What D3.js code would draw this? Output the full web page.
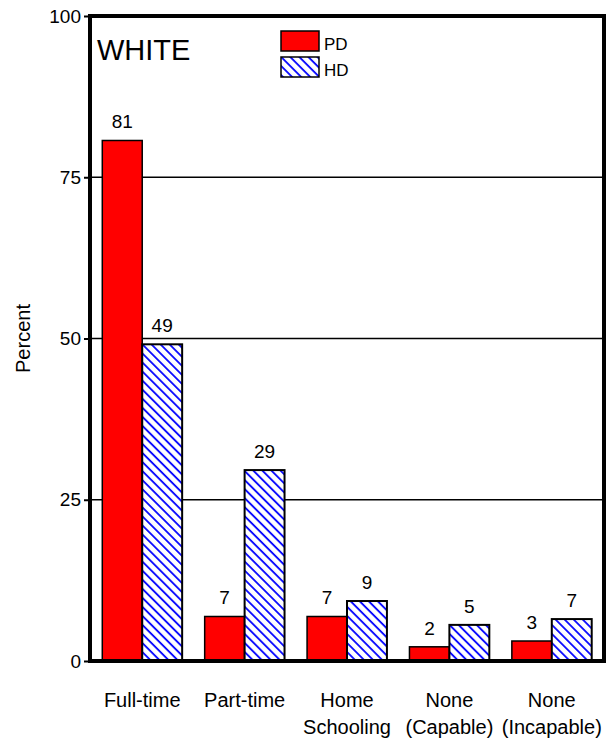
<!DOCTYPE html>
<html>
<head>
<meta charset="utf-8">
<script src="https://cdn.jsdelivr.net/npm/d3@7"></script>
<style>
  body { margin: 0; background: #fff; }
  text { font-family: Arial, "Liberation Sans", sans-serif; fill: #000; }
</style>
</head>
<body>
<svg id="chart"></svg>
<script>
// Data
const categories = [["Full-time"], ["Part-time"], ["Home", "Schooling"], ["None", "(Capable)"], ["None", "(Incapable)"]];
const seriesNames = ["PD", "HD"];
const pdValues = [80.7, 6.9, 6.9, 2.2, 3.1];
const hdValues = [49.1, 29.6, 9.3, 5.6, 6.5];
const pdLabels = ["81", "7", "7", "2", "3"];
const hdLabels = ["49", "29", "9", "5", "7"];
const yTicks = [0, 25, 50, 75, 100];

const width = 607, height = 743;
const margin = { top: 16, right: 3, bottom: 82, left: 90 };
const innerW = width - margin.left - margin.right;
const innerH = height - margin.top - margin.bottom;

const svg = d3.select('#chart').attr('width', width).attr('height', height);

// Hatch pattern for HD (lines going down to the right)
const defs = svg.append('defs');
const pat = defs.append('pattern')
  .attr('id', 'hatch')
  .attr('patternUnits', 'userSpaceOnUse')
  .attr('width', 6.4).attr('height', 6.4)
  .attr('patternTransform', 'rotate(-45)');
pat.append('rect').attr('width', 6.4).attr('height', 6.4).attr('fill', '#fff');
pat.append('line')
  .attr('x1', 1).attr('y1', 0).attr('x2', 1).attr('y2', 6.4)
  .attr('stroke', '#0000ff').attr('stroke-width', 1.8);

const g = svg.append('g').attr('transform', `translate(${margin.left},${margin.top})`);

const x0 = d3.scaleBand().domain(d3.range(categories.length)).range([0, innerW]).paddingInner(0.22).paddingOuter(0.12);
const x1 = d3.scaleBand().domain(seriesNames).range([0, x0.bandwidth()]);
const y = d3.scaleLinear().domain([0, 100]).range([innerH, 0]);

// Gridlines
g.selectAll('.grid').data(yTicks.filter(d => d > 0 && d < 100)).join('line')
  .attr('x1', 0).attr('x2', innerW)
  .attr('y1', d => y(d)).attr('y2', d => y(d))
  .attr('stroke', '#000').attr('stroke-width', 1.5);

// Y axis
const yAxis = d3.axisLeft(y).tickValues(yTicks).tickSize(6).tickPadding(3);
const yAxisG = g.append('g').call(yAxis);
yAxisG.select('.domain').remove();
yAxisG.selectAll('line').attr('stroke-width', 2);
yAxisG.selectAll('text').attr('font-size', 19).attr('font-family', 'Arial, "Liberation Sans", sans-serif');

// Bars
const rows = categories.map((c, i) => ({ i, PD: pdValues[i], HD: hdValues[i] }));
const grp = g.selectAll('.grp').data(rows).join('g')
  .attr('transform', d => `translate(${x0(d.i)},0)`);

grp.append('rect')
  .attr('x', x1('PD')).attr('width', x1.bandwidth())
  .attr('y', d => y(d.PD)).attr('height', d => y(0) - y(d.PD))
  .attr('fill', '#ff0000').attr('stroke', '#000').attr('stroke-width', 1.5);

grp.append('rect')
  .attr('x', x1('HD')).attr('width', x1.bandwidth())
  .attr('y', d => y(d.HD)).attr('height', d => y(0) - y(d.HD))
  .attr('fill', 'url(#hatch)').attr('stroke', '#000').attr('stroke-width', 2);

// Value labels
grp.append('text')
  .attr('x', x1('PD') + x1.bandwidth() / 2)
  .attr('y', d => y(d.PD) - 12)
  .attr('text-anchor', 'middle').attr('font-size', 19)
  .text(d => pdLabels[d.i]);
grp.append('text')
  .attr('x', x1('HD') + x1.bandwidth() / 2)
  .attr('y', d => y(d.HD) - 12)
  .attr('text-anchor', 'middle').attr('font-size', 19)
  .text(d => hdLabels[d.i]);

// Category labels
grp.append('text')
  .attr('text-anchor', 'middle').attr('font-size', 20)
  .attr('transform', `translate(${x0.bandwidth() / 2},${innerH + 46})`)
  .selectAll('tspan').data(d => categories[d.i]).join('tspan')
  .attr('x', 0).attr('dy', (d, k) => k === 0 ? 0 : 27)
  .text(d => d);

// Frame
g.append('rect')
  .attr('x', 0).attr('y', 0).attr('width', innerW).attr('height', innerH)
  .attr('fill', 'none').attr('stroke', '#000').attr('stroke-width', 4);

// Title
g.append('text').attr('x', 7).attr('y', 44).attr('font-size', 29).text('WHITE');

// Legend
const legend = g.append('g').attr('transform', 'translate(191,15)');
seriesNames.forEach((s, k) => {
  legend.append('rect')
    .attr('x', 0).attr('y', k * 26).attr('width', 38).attr('height', 20)
    .attr('fill', s === 'PD' ? '#ff0000' : 'url(#hatch)')
    .attr('stroke', '#000').attr('stroke-width', 1.5);
  legend.append('text')
    .attr('x', 43).attr('y', k * 26 + 19).attr('font-size', 17).text(s);
});

// Y axis title
svg.append('text')
  .attr('transform', `translate(30,${margin.top + innerH / 2}) rotate(-90)`)
  .attr('text-anchor', 'middle').attr('font-size', 20)
  .text('Percent');
</script>
</body>
</html>
